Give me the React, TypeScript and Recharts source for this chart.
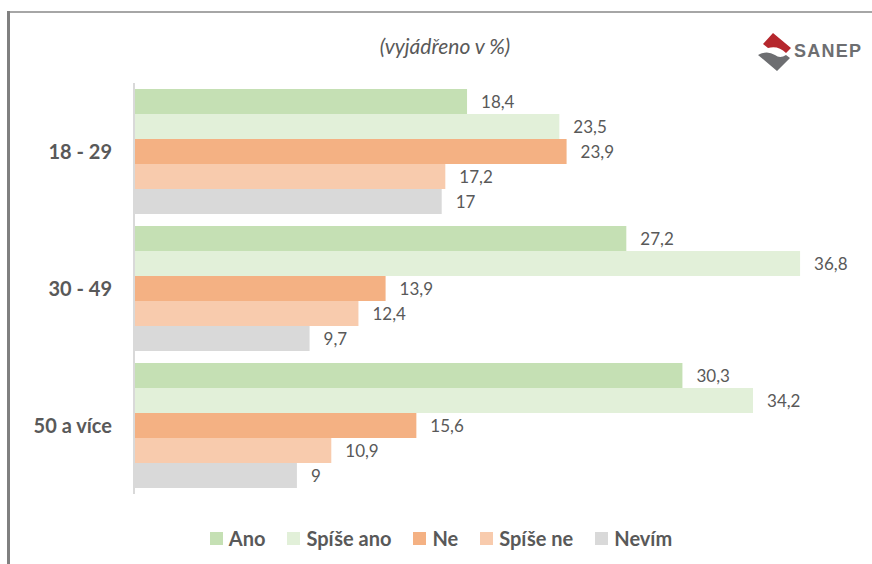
import React from 'react';
import { BarChart, Bar, XAxis, YAxis, LabelList } from 'recharts';

const categories = ['18 - 29', '30 - 49', '50 a více'];
const ano = [18.4, 27.2, 30.3];
const spiseAno = [23.5, 36.8, 34.2];
const ne = [23.9, 13.9, 15.6];
const spiseNe = [17.2, 12.4, 10.9];
const nevim = [17, 9.7, 9];

const series = [
  { key: 'ano', name: 'Ano', color: '#c5e0b4' },
  { key: 'spiseAno', name: 'Spíše ano', color: '#e2f0d9' },
  { key: 'ne', name: 'Ne', color: '#f4b183' },
  { key: 'spiseNe', name: 'Spíše ne', color: '#f8cbad' },
  { key: 'nevim', name: 'Nevím', color: '#d9d9d9' },
];

const data = categories.map((name, i) => ({
  name,
  ano: ano[i],
  spiseAno: spiseAno[i],
  ne: ne[i],
  spiseNe: spiseNe[i],
  nevim: nevim[i],
}));

const FONT = 'Lato, "Open Sans", sans-serif';
const TEXT = '#595959';

const fmt = (v: any) => String(v).replace('.', ',');

const App: React.FC = () => {
  return (
    <div style={{ position: 'absolute', left: 0, top: 0, width: 872, height: 564, background: '#fff', fontFamily: FONT }}>
      {/* frame lines */}
      <div style={{ position: 'absolute', left: 7, top: 11, width: 865, height: 2, background: '#a6a6a6' }} />
      <div style={{ position: 'absolute', left: 7, top: 11, width: 3, height: 553, background: '#808080' }} />

      <div style={{ position: 'absolute', left: 0, top: 33, width: 890, textAlign: 'center', fontStyle: 'italic', fontSize: 21, color: TEXT }}>
        (vyjádřeno v %)
      </div>

      {/* logo */}
      <svg style={{ position: 'absolute', left: 750, top: 28 }} width={122} height={46} viewBox="750 28 122 46">
        <path d="M773,33 L791,48 L786,53 Q778,45 768,48 L763,44 Z" fill="#b5272d" />
        <path d="M758,55 Q767,50 775,55 Q780,59 786,55 L790,58 L777,71 Z" fill="#6d6e71" />
        <text x={794} y={57} fontFamily='"Liberation Sans", Arial, sans-serif' fontWeight="bold" fontSize={18} fill="#6d6e71" textLength={67}>
          SANEP
        </text>
      </svg>

      <div style={{ position: 'absolute', left: 0, top: 0 }}>
        <BarChart
          width={872}
          height={564}
          data={data}
          layout="vertical"
          margin={{ top: 83, right: 14, bottom: 70, left: 0 }}
          barCategoryGap={6}
          barGap={0}
        >
          <XAxis type="number" domain={[0, 40]} hide />
          <YAxis
            type="category"
            dataKey="name"
            width={134}
            tickLine={false}
            tickSize={0}
            tickMargin={22}
            axisLine={{ stroke: '#d9d9d9', strokeWidth: 2 }}
            tick={{ fill: TEXT, fontSize: 20, fontWeight: 'bold', fontFamily: FONT }}
          />
          {series.map((s) => (
            <Bar key={s.key} dataKey={s.key} name={s.name} fill={s.color} isAnimationActive={false}>
              <LabelList
                dataKey={s.key}
                position="right"
                offset={14}
                formatter={fmt}
                style={{ fill: TEXT, fontSize: 17, fontFamily: FONT }}
              />
            </Bar>
          ))}
        </BarChart>
      </div>

      {/* legend */}
      <div style={{ position: 'absolute', left: 0, top: 526, width: 872, display: 'flex', justifyContent: 'center', paddingLeft: 10, boxSizing: 'border-box' }}>
        {series.map((s) => (
          <div key={s.key} style={{ display: 'flex', alignItems: 'center', margin: '0 11px' }}>
            <span style={{ width: 13, height: 13, background: s.color, display: 'inline-block', marginRight: 6 }} />
            <span style={{ fontSize: 20, fontWeight: 'bold', color: TEXT }}>{s.name}</span>
          </div>
        ))}
      </div>
    </div>
  );
};

export default App;
